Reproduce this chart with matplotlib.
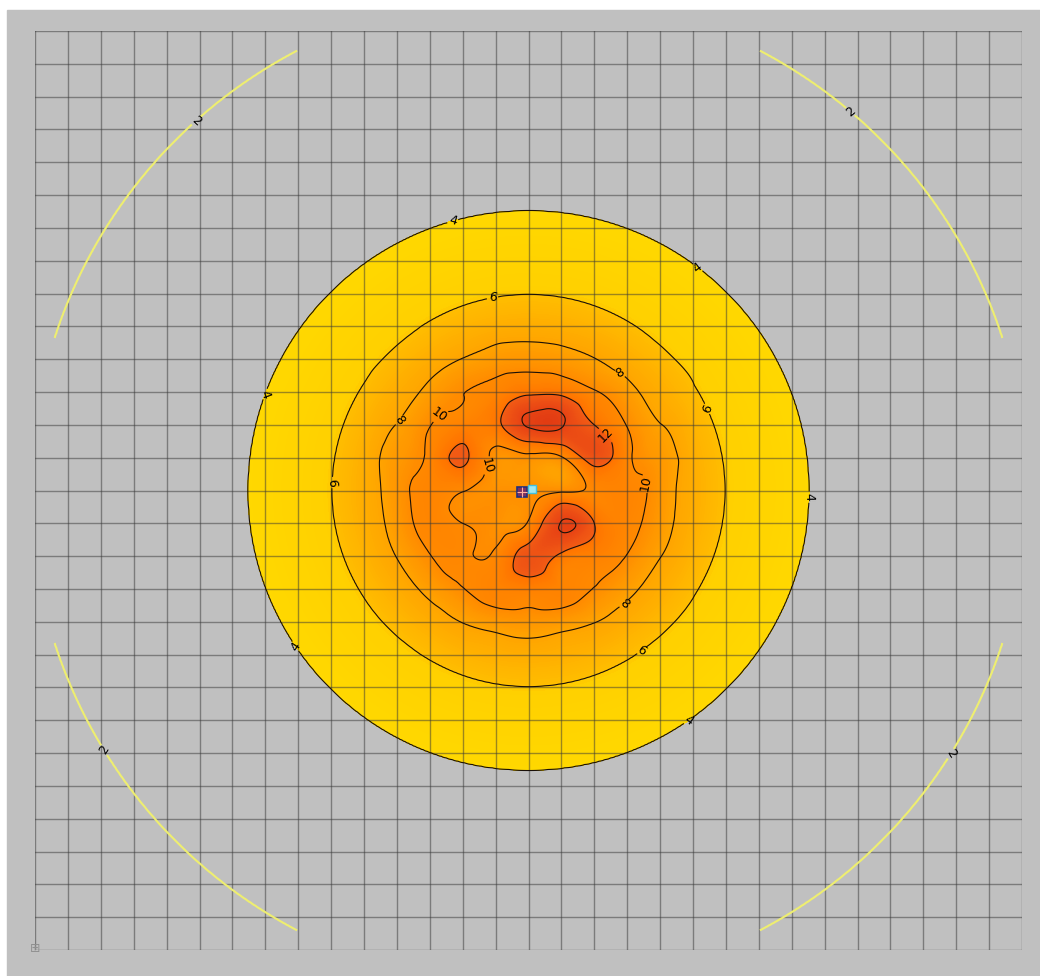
import numpy as np
import matplotlib
matplotlib.use("Agg")
import matplotlib.pyplot as plt
import matplotlib.tri as mtri
from matplotlib.colors import LinearSegmentedColormap
from matplotlib.patches import Rectangle

# room 30 x 28 grid units, luminaire in the middle
room_w = 30
room_d = 28
lum_x = [15.0]
lum_y = [14.0]

# radius of each isoline (grid units) -> lux
ring_radius = [0.0, 3.55, 4.5, 5.97, 8.52, 15.13, 21.0]
ring_level = [10.6, 10.0, 8.0, 6.0, 4.0, 2.0, 1.1]

# values around the luminaire, rows dy=-3..3 (top to bottom), cols dx=-3..3
core_vals = np.array([
    [8.5, 9.9, 10.5, 11.6, 11.5, 10.2, 8.6],
    [9.9, 10.8, 11.5, 14.2, 14.2, 12.0, 9.9],
    [10.4, 12.3, 9.4, 9.5, 9.8, 12.8, 10.4],
    [10.5, 10.1, 9.4, 9.5, 9.7, 10.3, 10.5],
    [10.4, 10.0, 9.5, 10.2, 14.1, 12.0, 10.4],
    [9.9, 10.2, 10.3, 12.8, 11.6, 10.8, 9.9],
    [8.5, 9.9, 10.6, 10.9, 10.6, 9.9, 8.5],
])

line_levels = [4, 6, 8, 10, 12, 14]

# label spots (grid units) per level
label_pos = {
    2: [(4.93, 2.77), (24.75, 2.5), (2.13, 21.9), (27.8, 22.0)],
    4: [(12.7, 5.8), (20.15, 7.2), (7.03, 11.08), (23.5, 14.2), (7.85, 18.8), (19.8, 20.9)],
    6: [(13.9, 8.1), (20.46, 11.5), (9.07, 13.76), (18.4, 18.8)],
    8: [(11.05, 11.84), (17.8, 10.4), (17.87, 17.4)],
    10: [(12.1, 11.5), (18.5, 13.8), (13.45, 13.15)],
    12: [(17.3, 12.36)],
}

# calculation area is a bit inside the room
xs = np.linspace(0.6, 29.4, 577)
ys = np.linspace(0.6, 27.4, 537)
X, Y = np.meshgrid(xs, ys)
R = np.hypot(X - lum_x[0], Y - lum_y[0])
field = np.interp(R, ring_radius, ring_level)

# core correction on a node grid
n = np.arange(-5, 6)
NX, NY = np.meshgrid(n, n)
dev = np.zeros(NX.shape)
base_core = np.interp(np.hypot(NX[2:9, 2:9], NY[2:9, 2:9]), ring_radius, ring_level)
dev[2:9, 2:9] = core_vals - base_core
tri = mtri.Triangulation(NX.ravel() + lum_x[0], NY.ravel() + lum_y[0])
interp = mtri.CubicTriInterpolator(tri, dev.ravel(), kind="min_E")
d = interp(X, Y)
field = field + np.ma.filled(d, 0.0)

stops = [(4.0, "#ffd800"), (5.9, "#ffd000"), (6.0, "#ffbe00"), (8.0, "#ffa400"),
         (10.0, "#ff8a00"), (11.9, "#ff7400"), (12.1, "#f25c14"),
         (14.0, "#e84414"), (16.0, "#d83010")]
cmap = LinearSegmentedColormap.from_list(
    "lux", [((v - 4.0) / 12.0, c) for v, c in stops])

fig = plt.figure(figsize=(10.4, 9.76), dpi=100)
fig.patches.append(Rectangle((7 / 1040, 0), 1, (976 - 10) / 976,
                             transform=fig.transFigure, color="#c0c0c0", zorder=-1))
ax = fig.add_axes([35 / 1040, 26 / 976, 987 / 1040, 919 / 976])
ax.set_zorder(1)
ax.set_facecolor("#c0c0c0")

ax.contourf(X, Y, field, levels=np.arange(4, 16.01, 0.1), cmap=cmap,
            vmin=4, vmax=16, zorder=1)

# one contour set per isoline so each can get its own labels
for lev in [2] + line_levels:
    if lev == 2:
        c = ax.contour(X, Y, field, levels=[lev], colors="#eeee70",
                       linewidths=1.5, zorder=3)
    else:
        c = ax.contour(X, Y, field, levels=[lev], colors="#1a1008",
                       linewidths=0.8, zorder=3)
    if lev in label_pos:
        ax.clabel(c, manual=label_pos[lev], inline=True, inline_spacing=2,
                  fontsize=9, fmt="%d", colors="black")

# grid
for gx in range(room_w + 1):
    ax.axvline(gx, color="#383838", lw=1.0, alpha=0.5, zorder=2)
for gy in range(room_d + 1):
    ax.axhline(gy, color="#383838", lw=1.0, alpha=0.5, zorder=2)

# luminaire symbol
ax.plot(lum_x[0] - 0.2, lum_y[0] + 0.06, marker="s", ms=7, mfc="#7a3060",
        mec="#203080", mew=1.2, zorder=5)
ax.plot(lum_x[0] - 0.2, lum_y[0] + 0.06, marker="+", ms=7, mec="#ffb0a0",
        mew=0.8, zorder=6)
ax.plot(lum_x[0] + 0.1, lum_y[0] - 0.05, marker="s", ms=6, mfc="#a0e8f0",
        mec="#40c0e0", mew=1.0, zorder=5)

ax.set_xlim(0, room_w)
ax.set_ylim(room_d, 0)
ax.set_xticks([])
ax.set_yticks([])
for s in ax.spines.values():
    s.set_visible(False)

# small corner icon
fig.text(35 / 1040, (976 - 948) / 976, "\u229e", fontsize=9, color="#909090",
         ha="center", va="center", zorder=2)

fig.savefig("out.png", dpi=100)
